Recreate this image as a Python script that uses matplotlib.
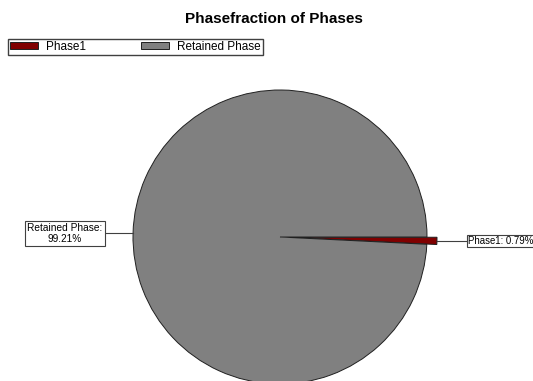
import numpy as np
import matplotlib.pyplot as plt

plt.rcParams['font.family'] = ['Liberation Sans', 'DejaVu Sans']

phases = ['Phase1', 'Retained Phase']
fractions = [0.79, 99.21]
colors = ['#800000', '#808080']

W, H = 533, 381
fig = plt.figure(figsize=(W / 100, H / 100), dpi=100)
ax = fig.add_axes([0, 0, 1, 1])

cx, cy, r = 280, H - 237, 147
wedges, _ = ax.pie(fractions, colors=colors, startangle=0, counterclock=False,
                   explode=[10, 0], center=(cx, cy), radius=r,
                   wedgeprops=dict(edgecolor='#202020', linewidth=0.7))
ax.set_xlim(0, W)
ax.set_ylim(0, H)
ax.set_aspect('equal')
ax.axis('off')

# callout labels
texts = ['%s: %.2f%%' % (phases[0], fractions[0]),
         '%s:\n%.2f%%' % (phases[1], fractions[1])]
for i, w in enumerate(wedges):
    ang = np.deg2rad((w.theta1 + w.theta2) / 2)
    ox, oy = w.center
    ex, ey = ox + w.r * np.cos(ang), oy + w.r * np.sin(ang)
    if i == 0:
        ax.plot([ex, 467], [ey, ey], color='#404040', lw=0.8)
        ax.text(468, ey, texts[i], ha='left', va='center', fontsize=6.9,
                bbox=dict(boxstyle='square,pad=0.12', fc='white', ec='#404040', lw=0.8))
    else:
        ax.plot([ex, 104], [ey, ey], color='#404040', lw=0.8)
        ax.text(65, ey, texts[i], ha='center', va='center', fontsize=7.3,
                linespacing=1.15,
                bbox=dict(boxstyle='square,pad=0.2', fc='white', ec='#404040', lw=0.8))

fig.text(274 / W, 1 - 19 / H, 'Phasefraction of Phases', ha='center', va='center',
         fontsize=11, fontweight='bold')

leg = fig.legend(wedges, phases, loc='upper left', ncol=2,
                 bbox_to_anchor=(8 / W, 1 - 39 / H),
                 borderaxespad=0, fancybox=False, edgecolor='#404040', fontsize=8.5,
                 handlelength=2.4, handleheight=0.5, borderpad=0.15, handletextpad=0.7,
                 columnspacing=4.6, framealpha=1)
leg.get_frame().set_linewidth(1.0)

fig.savefig('out.png', dpi=100)
